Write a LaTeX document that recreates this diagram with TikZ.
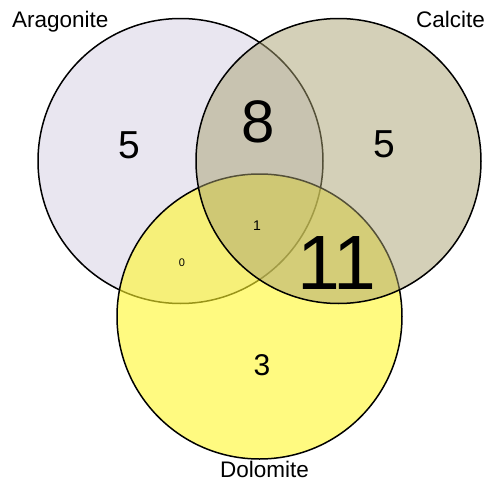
\documentclass[tikz,border=0pt]{standalone}
\usepackage{fontspec}
\setmainfont{Liberation Sans}
\definecolor{aragfill}{RGB}{233,230,240}
\definecolor{calcfill}{RGB}{169,161,113}
\definecolor{dolofill}{RGB}{255,247,43}
\tikzset{
  setcircle/.style={circle, draw=black, line width=1.5pt, minimum size=285pt, inner sep=0pt},
  setlabel/.style={inner sep=0pt, font=\fontsize{22.5}{24}\selectfont},
  count/.style={inner sep=0pt, font=\fontsize{#1}{#1}\selectfont}
}
\begin{document}
\begin{tikzpicture}[x=1pt,y=-1pt]
\useasboundingbox (0,0) rectangle (488,482);
\node[setcircle, fill=aragfill] (A) at (180.5,161) {};
\node[setcircle, fill=dolofill, fill opacity=0.6] (D) at (259.5,316.5) {};
\node[setcircle, fill=calcfill, fill opacity=0.5] (C) at (338.5,161) {};
\node[setlabel, anchor=base west] (la) at (12,27) {Aragonite};
\node[setlabel, anchor=base east] (lc) at (485,27) {Calcite};
\node[setlabel, anchor=base] (ld) at (264.5,477) {Dolomite};
\node[count=39] (n1) at (129.5,145) {5};
\node[count=39] (n2) at (384.5,144) {5};
\node[count=60] (n3) at (258,122) {8};
\node[count=77] (n4) at (337,263) {1\kern-0.09em1};
\node[count=30] (n5) at (262,365) {3};
\node[count=14] (n6) at (257,226) {1};
\node[count=11] (n7) at (182,263) {0};
\end{tikzpicture}
\end{document}
